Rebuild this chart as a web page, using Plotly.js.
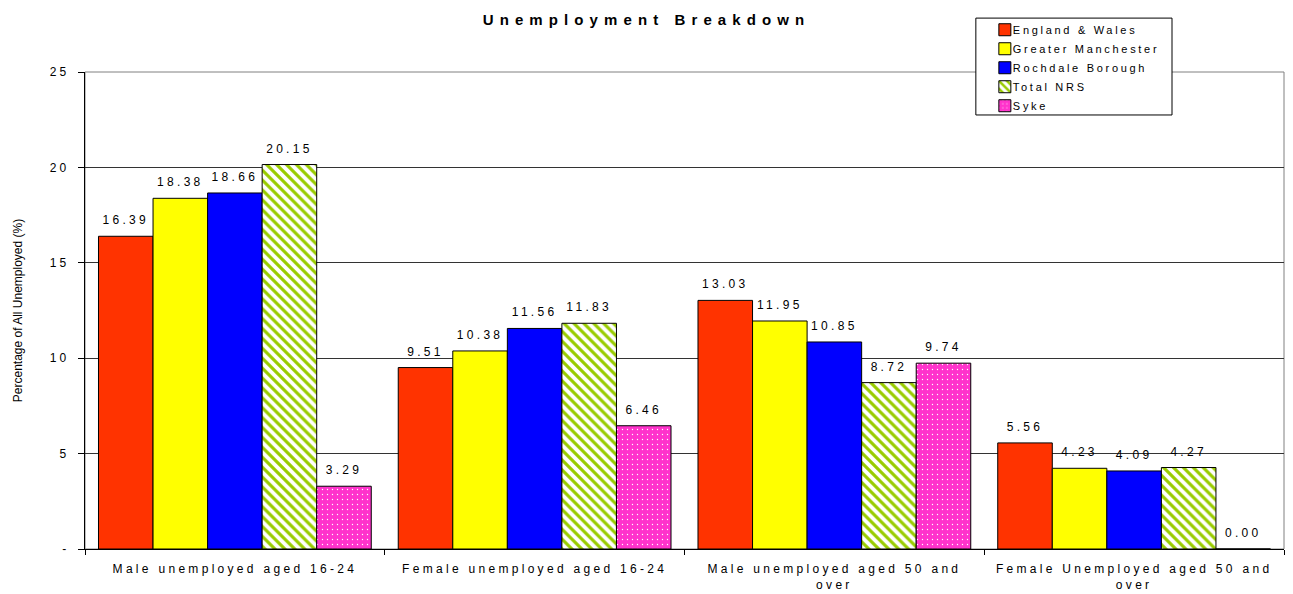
<!DOCTYPE html>
<html>
<head>
<meta charset="utf-8">
<script src="https://cdn.plot.ly/plotly-3.0.1.min.js"></script>
<style>
  html, body { margin: 0; padding: 0; background: #fff; }
  #chart { width: 1293px; height: 594px; }
  svg text { letter-spacing: 3.3px; }
  svg text.gtitle { letter-spacing: 6.1px; }
  svg text.legendtext { letter-spacing: 2.7px; }
  svg text.ytitle { letter-spacing: 0px; }
  .legend .legendpoints { translate: 9px 0; }
  .legend text.legendtext { translate: -3px 0; }
</style>
</head>
<body>
<div id="chart"></div>
<script>
const categories = [
  "Male unemployed aged 16-24",
  "Female unemployed aged 16-24",
  "Male unemployed aged 50 and<br>over",
  "Female Unemployed aged 50 and<br>over"
];
const seriesNames = ["England & Wales", "Greater Manchester", "Rochdale Borough", "Total NRS", "Syke"];
const englandWales = [16.39, 9.51, 13.03, 5.56];
const greaterManchester = [18.38, 10.38, 11.95, 4.23];
const rochdaleBorough = [18.66, 11.56, 10.85, 4.09];
const totalNRS = [20.15, 11.83, 8.72, 4.27];
const syke = [3.29, 6.46, 9.74, 0.00];
const yTickVals = [0, 5, 10, 15, 20, 25];
const yTickText = ["-", "5", "10", "15", "20", "25"];

const FONT = 'Arial, "Liberation Sans", sans-serif';

function bar(name, y, marker) {
  return {
    type: 'bar', name: name, x: categories, y: y,
    marker: Object.assign({line: {color: '#000', width: 1}}, marker),
    text: y.map(v => v.toFixed(2)),
    textposition: 'outside',
    textfont: {family: FONT, size: 12, color: '#000'},
    cliponaxis: false,
    hoverinfo: 'name+y'
  };
}

const data = [
  bar(seriesNames[0], englandWales, {color: '#ff3300'}),
  bar(seriesNames[1], greaterManchester, {color: '#ffff00'}),
  bar(seriesNames[2], rochdaleBorough, {color: '#0000ff'}),
  bar(seriesNames[3], totalNRS, {color: '#99cc00', pattern: {shape: '\\', bgcolor: '#ffffff', fgcolor: '#99cc00', size: 7, solidity: 0.45}}),
  bar(seriesNames[4], syke, {color: '#ff33cc', pattern: {shape: '.', bgcolor: '#ff33cc', fgcolor: '#ffffff', size: 5, solidity: 0.06}})
];

const legendLeft = 0.743, legendRight = 0.9066, legendBottom = 0.9099, legendTop = 1.113;

const layout = {
  width: 1293, height: 594,
  margin: {l: 85, r: 9, t: 72, b: 45},
  paper_bgcolor: '#fff', plot_bgcolor: '#fff',
  font: {family: FONT, size: 12, color: '#000'},
  title: {
    text: '<b>Unemployment Breakdown</b>',
    font: {family: FONT, size: 15, color: '#000'},
    x: 0.5, xref: 'container', xanchor: 'center',
    y: 0.966, yref: 'container', yanchor: 'middle'
  },
  barmode: 'group', bargap: 0.09, bargroupgap: 0,
  xaxis: {
    showline: true, linecolor: '#000', linewidth: 1,
    ticks: 'outside', tickson: 'boundaries', ticklen: 5, tickcolor: '#000',
    tickfont: {family: FONT, size: 12, color: '#000'},
    ticklabelstandoff: 9,
    showgrid: false, fixedrange: true
  },
  yaxis: {
    range: [0, 25], tickvals: yTickVals, ticktext: yTickText,
    showline: true, linecolor: '#000', linewidth: 1,
    ticks: 'outside', ticklen: 6, tickcolor: '#000',
    tickfont: {family: FONT, size: 12, color: '#000'},
    ticklabelstandoff: 6,
    showgrid: true, gridcolor: '#333', gridwidth: 1,
    zeroline: false,
    title: {text: 'Percentage of All Unemployed (%)', font: {family: FONT, size: 12, color: '#000'}, standoff: 24}
  },
  legend: {
    x: legendLeft, y: legendTop + 0.006, xanchor: 'left', yanchor: 'top',
    bgcolor: 'rgba(0,0,0,0)', borderwidth: 0,
    font: {family: FONT, size: 11, color: '#000'},
    traceorder: 'normal'
  },
  showlegend: true,
  shapes: [
    {type: 'rect', xref: 'paper', yref: 'paper', x0: 0, x1: 1, y0: 0, y1: 1,
     line: {color: '#808080', width: 1}, layer: 'below'},
    {type: 'rect', xref: 'paper', yref: 'paper', x0: legendLeft, x1: legendRight, y0: legendBottom, y1: legendTop,
     line: {color: '#000', width: 1}, fillcolor: '#fff', layer: 'above'}
  ]
};

function liftBarLabels() {
  document.querySelectorAll('#chart .trace.bars g.point text').forEach(function (t) {
    t.style.translate = '0px -6px';
  });
}

Plotly.newPlot('chart', data, layout, {displayModeBar: false, staticPlot: true}).then(liftBarLabels);
</script>
</body>
</html>
